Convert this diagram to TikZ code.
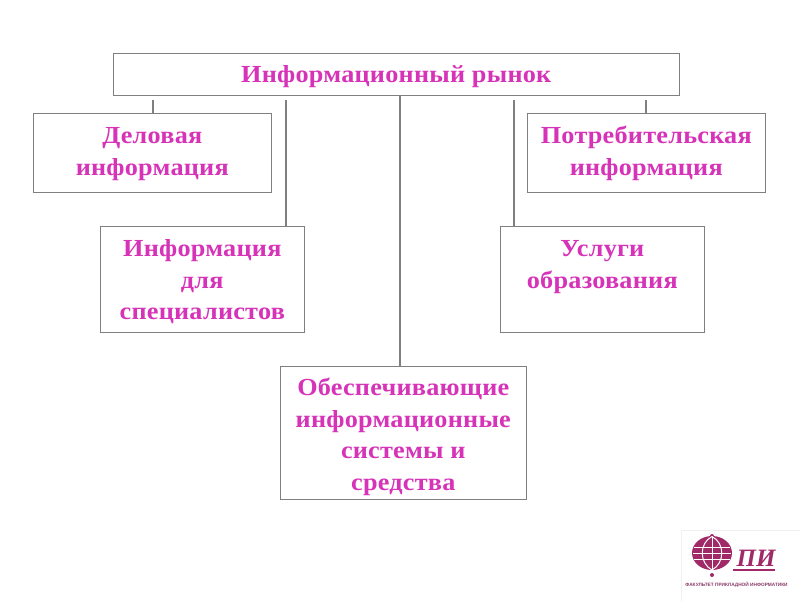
\documentclass[tikz,border=0pt]{standalone}
\usepackage{fontspec}
\setmainfont{Liberation Serif}
\newfontfamily\logosans{Liberation Sans}
\newfontfamily\boxfont[FakeStretch=1.07,LetterSpace=1]{Liberation Serif}
\definecolor{txtpink}{HTML}{D633B8}
\definecolor{linegray}{HTML}{7F7F7F}
\definecolor{logored}{HTML}{A02A68}
\definecolor{logotxt}{HTML}{8A3A6A}
\newcommand{\bxt}[4]{\parbox[c][#2pt][t]{#1pt}{\centering\rule{0pt}{#3pt}\ignorespaces #4}}
\tikzset{
  box/.style={draw=linegray,line width=1.4pt,fill=white,inner sep=0pt,anchor=north west,
    font=\boxfont\fontsize{24.5}{31.5}\selectfont\bfseries,text=txtpink},
  conn/.style={draw=linegray,line width=1.4pt}
}
\begin{document}
\begin{tikzpicture}[x=1pt,y=-1pt]
\useasboundingbox (0,0) rectangle (800,600);
\fill[white] (0,0) rectangle (800,600);
\node[box] (top) at (112.6,52.6) {\bxt{566}{42}{29.5}{Информационный рынок}};
\node[box] (biz) at (32.6,112.6) {\bxt{238}{79}{30.5}{Деловая\\информация}};
\node[box] (cons) at (526.6,112.6) {\bxt{238}{79}{30.5}{Потребительская\\информация}};
\node[box] (spec) at (99.6,225.6) {\bxt{204}{106}{30.5}{Информация\\для\\специалистов}};
\node[box] (edu) at (499.6,225.6) {\bxt{204}{106}{30.5}{Услуги\\образования}};
\node[box] (sys) at (279.6,365.6) {\bxt{246}{133}{29.5}{Обеспечивающие\\информационные\\системы и\\средства}};
\coordinate (c1) at (153,100);
\coordinate (c2) at (286,100);
\coordinate (c3) at (400,96);
\coordinate (c4) at (514,100);
\coordinate (c5) at (646,100);
\draw[conn] (c1) -- (c1 |- biz.north);
\draw[conn] (c2) -- (c2 |- spec.north);
\draw[conn] (c3) -- (c3 |- sys.north);
\draw[conn] (c4) -- (c4 |- edu.north);
\draw[conn] (c5) -- (c5 |- cons.north);
% logo
\draw[draw=black!6,fill=white] (681,530) rectangle (801,601);
\fill[logored] (712,553) ellipse [x radius=20,y radius=17];
\fill[logored] (712,536) circle (2);
\fill[logored] (712,575) circle (2);
\draw[white,line width=1pt] (712,536.5) -- (712,570);
\draw[white,line width=1pt] (694,547) -- (730,547) (693,553) -- (731,553) (694,559) -- (730,559);
\draw[white,line width=1pt] (712,536.5) .. controls (699,543) and (699,563) .. (712,570);
\draw[white,line width=1pt] (712,536.5) .. controls (725,543) and (725,563) .. (712,570);
\node[inner sep=0pt,font=\fontsize{25}{25}\selectfont\itshape\bfseries,text=logored] (pi) at (756,558) {ПИ};
\draw[logored,line width=1.2pt] (733,570) -- (775,570);
\node[inner sep=0pt,font=\fontsize{4.75}{4.75}\logosans\bfseries,text=logotxt] (fac) at (736.5,585) {ФАКУЛЬТЕТ ПРИКЛАДНОЙ ИНФОРМАТИКИ};
\end{tikzpicture}
\end{document}
